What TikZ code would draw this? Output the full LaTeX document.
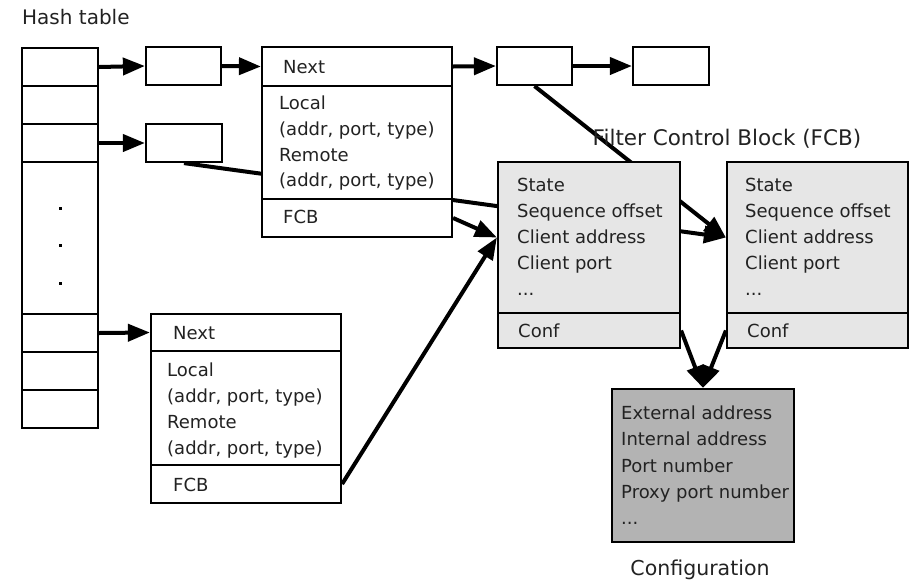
\documentclass[tikz,border=0pt]{standalone}
\usepackage{fontspec}
\setmainfont{DejaVu Sans}
\usetikzlibrary{arrows.meta}
\pgfdeclarelayer{bg}
\pgfsetlayers{bg,main}
\definecolor{fcbgray}{HTML}{E6E6E6}
\definecolor{confgray}{HTML}{B3B3B3}
\definecolor{txtcol}{HTML}{222222}
\begin{document}
\begin{tikzpicture}[x=1pt,y=-1pt,
  box/.style={draw=black, line width=2.2pt, fill=white, inner sep=0pt, minimum width=#1},
  box/.default=76pt,
  txt/.style={anchor=base west, inner sep=0pt, font=\fontsize{18}{21}\selectfont, text=txtcol},
  ctxt/.style={anchor=base, inner sep=0pt, font=\fontsize{20.5}{24}\selectfont, text=txtcol},
  ltxt/.style={anchor=base west, inner sep=0pt, font=\fontsize{20}{24}\selectfont, text=txtcol},
  arr/.style={line width=4pt, -{Triangle[length=22pt,width=17pt]}}
]
\useasboundingbox (0,0) rectangle (911,582);

% Hash table
\node[ltxt] (hlabel) at (22,24) {Hash table};
\node[box, minimum height=38pt] (h1) at (60,67) {};
\node[box, minimum height=38pt] (h2) at (60,105) {};
\node[box, minimum height=38pt] (h3) at (60,143) {};
\node[box, minimum height=152pt] (h4) at (60,238) {};
\node[box, minimum height=38pt] (h5) at (60,333) {};
\node[box, minimum height=38pt] (h6) at (60,371) {};
\node[box, minimum height=38pt] (h7) at (60,409) {};
\foreach \yy in {208,245,283} \fill (58.5,\yy-1.5) rectangle (61.5,\yy+1.5);

% small boxes
\node[box=75pt, minimum height=38pt] (a) at (183.5,66) {};
\node[box=76pt, minimum height=38pt] (b) at (184,143) {};
\node[box=75pt, minimum height=38pt] (c) at (534.5,66) {};
\node[box=76pt, minimum height=38pt] (d) at (671,66) {};

% entry 1
\node[box=190pt, minimum height=39pt] (n1) at (357,66.5) {};
\node[box=190pt, minimum height=113pt] (m1) at (357,142.5) {};
\node[box=190pt, minimum height=38pt] (f1) at (357,218) {};
\node[txt] at (283,73) {Next};
\node[txt] at (279,109) {Local};
\node[txt] at (279,135) {(addr, port, type)};
\node[txt] at (279,161) {Remote};
\node[txt] at (279,186.5) {(addr, port, type)};
\node[txt] at (283,223) {FCB};

% entry 2
\node[box=190pt, minimum height=37pt] (n2) at (246,332.5) {};
\node[box=190pt, minimum height=114pt] (m2) at (246,408) {};
\node[box=190pt, minimum height=38pt] (f2) at (246,484) {};
\node[txt] at (173,339) {Next};
\node[txt] at (167,376) {Local};
\node[txt] at (167,402) {(addr, port, type)};
\node[txt] at (167,428) {Remote};
\node[txt] at (167,454) {(addr, port, type)};
\node[txt] at (173,491) {FCB};

% FCBs
\node[ctxt, font=\fontsize{21.5}{24}\selectfont] (fcblabel) at (727,145) {Filter Control Block (FCB)};
\node[box=182pt, fill=fcbgray, minimum height=151pt] (s1) at (589,237.5) {};
\node[box=182pt, fill=fcbgray, minimum height=35pt] (k1) at (589,330.5) {};
\node[box=181pt, fill=fcbgray, minimum height=151pt] (s2) at (817.5,237.5) {};
\node[box=181pt, fill=fcbgray, minimum height=35pt] (k2) at (817.5,330.5) {};
\foreach \xx/\cx in {517/518,745/747}{
  \node[txt] at (\xx,191) {State};
  \node[txt] at (\xx,217) {Sequence offset};
  \node[txt] at (\xx,243) {Client address};
  \node[txt] at (\xx,269) {Client port};
  \node[txt] at (\xx,295) {...};
  \node[txt] at (\cx,337) {Conf};
}

% Configuration
\node[box=182pt, fill=confgray, minimum height=153pt] (conf) at (703,465.5) {};
\node[txt] at (621,419) {External address};
\node[txt] at (621,445.5) {Internal address};
\node[txt] at (621,472) {Port number};
\node[txt] at (621,498) {Proxy port number};
\node[txt] at (621,524) {...};
\node[ctxt] (conflabel) at (700,575) {Configuration};

% connectors
\begin{pgfonlayer}{bg}
\draw[arr] (h1.east) -- (a.west);
\draw[arr] (h3.east) -- (b.west);
\draw[arr] (h5.east) -- (n2.west);
\draw[arr] (a.east) -- (n1.west);
\draw[arr] (n1.east) -- (c.west);
\draw[arr] (c.east) -- (d.west);
\draw[arr] (b.south) -- (s2.west);
\draw[arr] (c.south) -- (s2.west);
\draw[arr] (f1.east) -- (s1.west);
\draw[arr] (f2.east) -- (s1.west);
\draw[arr] (k1.east) -- (conf.north);
\draw[arr] (k2.west) -- (conf.north);
\end{pgfonlayer}
\end{tikzpicture}
\end{document}
